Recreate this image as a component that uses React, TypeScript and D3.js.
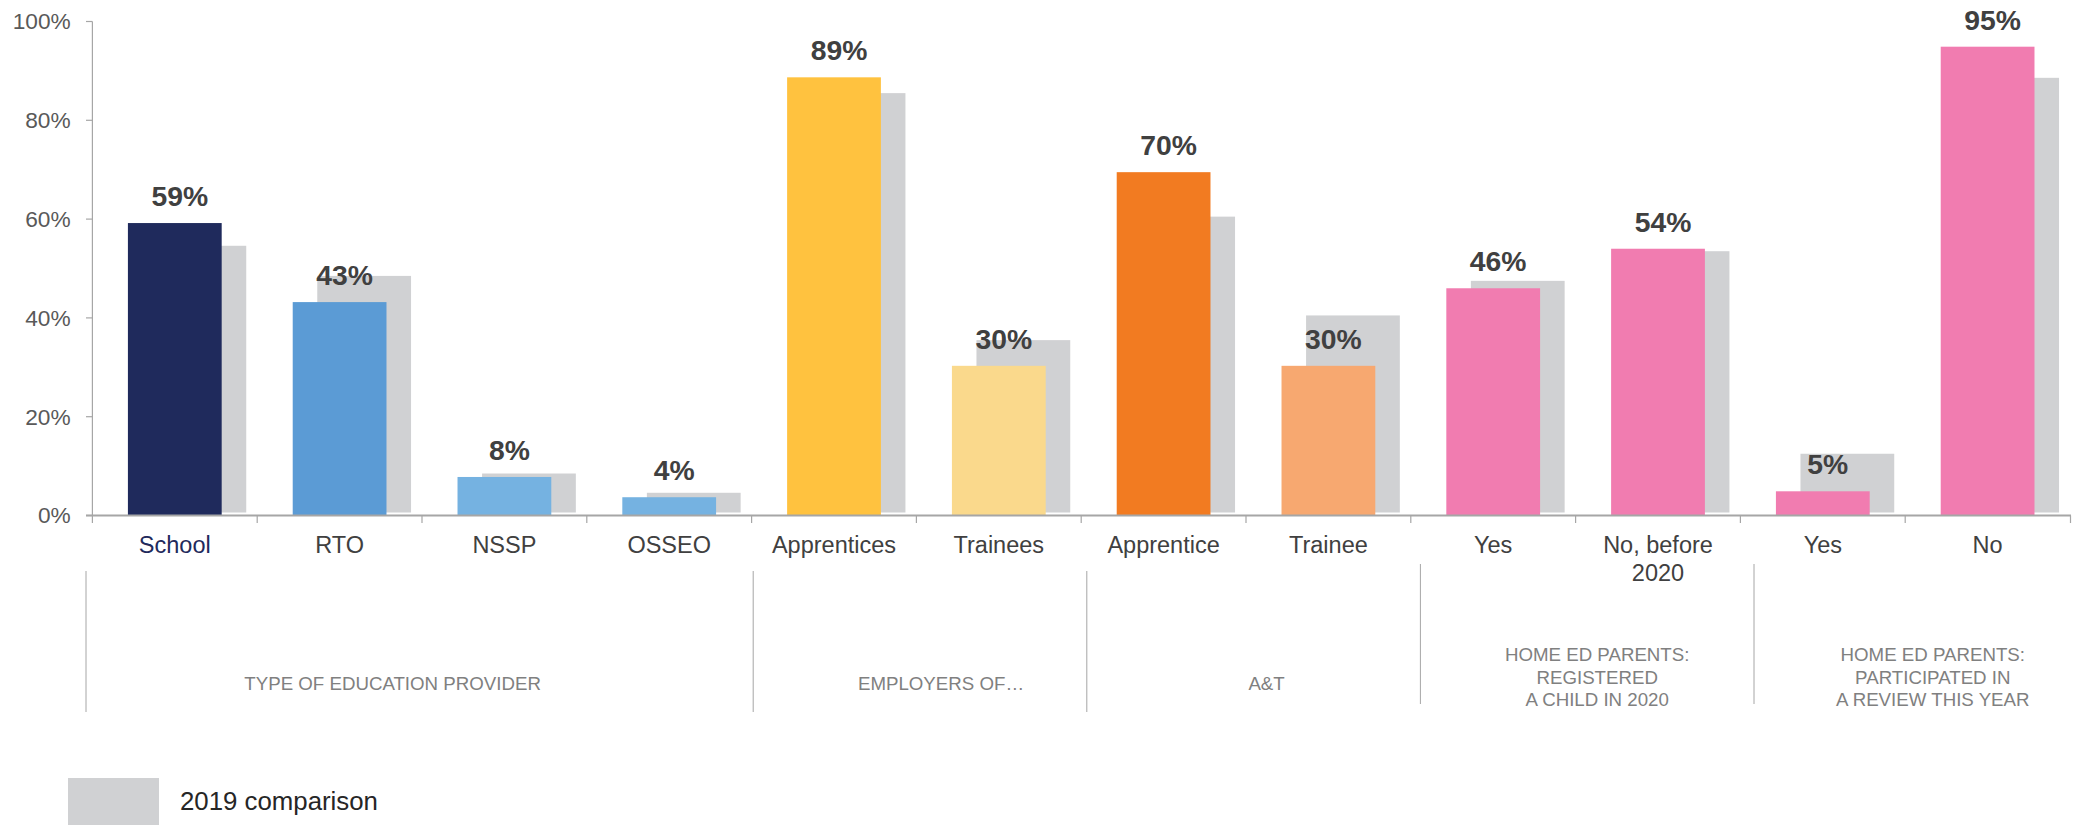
import React from "react";
import * as d3 from "d3";

const categories = ["School", "RTO", "NSSP", "OSSEO", "Apprentices", "Trainees", "Apprentice", "Trainee", "Yes", "No, before\n2020", "Yes", "No"];
const values2020 = [59.2, 43.2, 7.8, 3.7, 88.7, 30.3, 69.5, 30.3, 46.0, 54.0, 4.9, 94.9];
const values2019 = [54.6, 48.5, 8.5, 4.6, 85.5, 35.5, 60.5, 40.5, 47.5, 53.5, 12.5, 88.6];
const barColors = ["#1F2A5C", "#5B9BD5", "#75B2E1", "#75B2E1", "#FFC23F", "#FAD98C", "#F27B21", "#F7A870", "#F17CB0", "#F17CB0", "#F17CB0", "#F17CB0"];
const groupLabels = ["TYPE OF EDUCATION PROVIDER", "EMPLOYERS OF…", "A&T", "HOME ED PARENTS:\nREGISTERED\nA CHILD IN 2020", "HOME ED PARENTS:\nPARTICIPATED IN\nA REVIEW THIS YEAR"];
const groupSizes = [4, 2, 2, 2, 2];
const yTicks = [0, 20, 40, 60, 80, 100];
const legendLabel = "2019 comparison";

// layout nudges for group label text (px)
const groupLabelNudge = [-27, 21, 13, 10, 12];

const W = 2086;
const H = 826;
const FONT = "'Liberation Sans', Arial, sans-serif";

export default function App() {
  const x = d3.scaleBand<number>().domain(d3.range(categories.length)).range([92.4, 2070]).paddingInner(0).paddingOuter(0);
  const y = d3.scaleLinear().domain([0, 100]).range([515.5, 21.5]);
  const gx = d3.scaleLinear().domain([0, categories.length]).range([86, 86 + 166.8 * categories.length]);
  const bw = x.bandwidth();
  const barW = bw * 0.569;
  const grayOff = bw * 0.149;

  const groupStarts: number[] = [];
  groupSizes.reduce((acc, s) => {
    groupStarts.push(acc);
    return acc + s;
  }, 0);

  return (
    <div style={{ position: "absolute", left: 0, top: 0 }}>
      <svg width={W} height={H} style={{ display: "block", fontFamily: FONT }}>
        <rect width={W} height={H} fill="#ffffff" />
        {/* y axis */}
        <line x1={92.4} x2={92.4} y1={y(100)} y2={y(0)} stroke="#A6A6A6" strokeWidth={1.2} />
        {yTicks.map((t) => (
          <g key={t}>
            <line x1={86} x2={92.4} y1={y(t)} y2={y(t)} stroke="#A6A6A6" strokeWidth={1.2} />
            <text x={70.7} y={y(t)} dy="0.35em" textAnchor="end" fontSize={22.7} fill="#595959">
              {t}%
            </text>
          </g>
        ))}
        {/* 2019 bars */}
        {values2019.map((v, i) => (
          <rect
            key={"g" + i}
            x={(x(i) as number) + (bw - barW) / 2 + grayOff}
            y={y(v)}
            width={barW}
            height={y(0) - 3 - y(v)}
            fill="#D0D1D3"
          />
        ))}
        {/* 2020 bars */}
        {values2020.map((v, i) => (
          <rect
            key={"b" + i}
            x={(x(i) as number) + (bw - barW) / 2}
            y={y(v)}
            width={barW}
            height={y(0) - y(v)}
            fill={barColors[i]}
          />
        ))}
        {/* x axis */}
        <line x1={86} x2={2071} y1={y(0)} y2={y(0)} stroke="#A6A6A6" strokeWidth={2} />
        {d3.range(categories.length + 1).map((i) => {
          const xx = i < categories.length ? (x(i) as number) : 2070.5;
          return <line key={"t" + i} x1={xx} x2={xx} y1={y(0)} y2={y(0) + 7.5} stroke="#A6A6A6" strokeWidth={1.2} />;
        })}
        {/* data labels */}
        {values2020.map((v, i) => (
          <text
            key={"l" + i}
            x={(x(i) as number) + bw / 2 + 5}
            y={y(v) - 17}
            textAnchor="middle"
            fontSize={28.3}
            fontWeight="bold"
            fill="#404040"
          >
            {Math.round(v)}%
          </text>
        ))}
        {/* category labels */}
        {categories.map((c, i) => (
          <text key={"c" + i} x={(x(i) as number) + bw / 2} y={552.5} textAnchor="middle" fontSize={23.5} fill={i === 0 ? "#1F2A5C" : "#404040"}>
            {c.split("\n").map((line, k) => (
              <tspan key={k} x={(x(i) as number) + bw / 2} dy={k === 0 ? 0 : 28}>
                {line}
              </tspan>
            ))}
          </text>
        ))}
        {/* group separators & labels */}
        {groupLabels.map((g, gi) => {
          const start = groupStarts[gi];
          const end = start + groupSizes[gi];
          const lines = g.split("\n");
          const multi = lines.length > 1;
          const lx = gx(start);
          const cx = (gx(start) + gx(end)) / 2 + groupLabelNudge[gi];
          const cy = 683 - (lines.length - 1) * 3;
          return (
            <g key={"grp" + gi}>
              <line x1={lx} x2={lx} y1={multi ? 564 : 571} y2={multi ? 704 : 712} stroke="#A6A6A6" strokeWidth={1} />
              <text x={cx} y={cy} textAnchor="middle" fontSize={18.7} fill="#808080">
                {lines.map((line, k) => (
                  <tspan key={k} x={cx} dy={k === 0 ? `${0.35 - ((lines.length - 1) / 2) * 1.2}em` : "1.2em"}>
                    {line}
                  </tspan>
                ))}
              </text>
            </g>
          );
        })}
        {/* legend */}
        <rect x={68} y={778} width={91} height={47} fill="#D0D1D3" />
        <text x={180} y={810} fontSize={25.8} fill="#262626">
          {legendLabel}
        </text>
      </svg>
    </div>
  );
}
